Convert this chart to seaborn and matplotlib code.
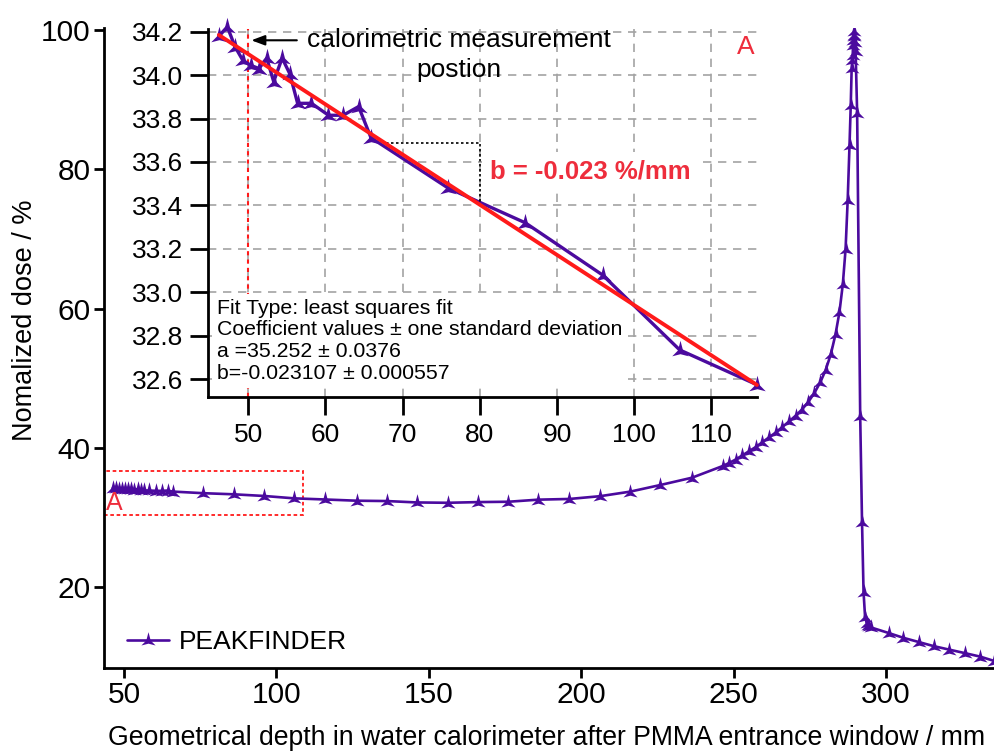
import numpy as np
import pandas as pd
import matplotlib
matplotlib.use("Agg")
import matplotlib.pyplot as plt
from matplotlib.path import Path
from matplotlib.patches import Rectangle
import seaborn as sns

# ---------------- data ----------------
inset_x = [46.2, 47.3, 48.3, 49.3, 50.3, 51.4, 52.4, 53.3, 54.4, 55.4, 56.4,
           58.2, 60.4, 62.3, 64.3, 65.9, 75.9, 85.9, 95.9, 105.9, 115.9]
inset_y = [34.178, 34.222, 34.130, 34.068, 34.045, 34.030, 34.078, 33.970,
           34.078, 34.005, 33.870, 33.870, 33.815, 33.815, 33.855, 33.712,
           33.480, 33.320, 33.080, 32.735, 32.575]

far_x = [126.3, 136.2, 146.0, 156.2, 166.2, 176.1, 185.9, 196.1, 206.2, 216.0,
         225.9, 236.3, 246.5, 248.4, 250.6, 252.8, 255.0, 257.2, 259.4, 261.6,
         263.8, 266.0, 268.2, 270.3, 272.4, 274.5, 276.5, 278.4, 280.2, 281.9,
         283.4, 284.7, 285.8, 286.7, 287.4, 288.0, 288.4, 288.7, 288.9, 289.05,
         289.15, 289.25, 289.35, 289.45, 289.6, 289.8, 290.0, 290.5, 291.5,
         292.1, 292.6, 293.1, 293.6, 294.0, 294.5, 295.0, 300.8, 305.7, 310.7,
         315.7, 320.8, 325.9, 330.9, 335.3]
far_y = [32.40, 32.35, 32.15, 32.10, 32.20, 32.25, 32.55, 32.65, 33.05, 33.70,
         34.65, 35.70, 37.40, 37.80, 38.30, 38.90, 39.50, 40.10, 40.80, 41.50,
         42.20, 43.00, 43.80, 44.60, 45.50, 46.60, 47.90, 49.40, 51.20, 53.50,
         56.30, 59.50, 63.50, 68.50, 75.60, 83.50, 89.20, 94.50, 95.70, 96.40,
         97.80, 98.60, 99.30, 99.80, 99.20, 98.30, 97.00, 88.10, 44.60,
         29.40, 19.30, 15.70, 14.90, 14.60, 14.40, 14.20, 13.40, 12.70, 12.10,
         11.50, 11.00, 10.50, 10.00, 9.40]

fit_a = 35.252
fit_b = -0.023107
series_name = "PEAKFINDER"
fit_text = ("Fit Type: least squares fit\n"
            "Coefficient values \u00b1 one standard deviation\n"
            "a =35.252 \u00b1 0.0376\n"
            "b=-0.023107 \u00b1 0.000557")

main_df = pd.DataFrame({"depth": inset_x + far_x, "dose": inset_y + far_y})
inset_df = pd.DataFrame({"depth": inset_x, "dose": inset_y})

# ---------------- style ----------------
sns.set_style("ticks")
plt.rcParams["font.family"] = ["Liberation Sans", "DejaVu Sans"]
plt.rcParams["axes.linewidth"] = 2.0
for k in ["text.color", "axes.labelcolor", "xtick.color", "ytick.color",
          "axes.edgecolor"]:
    plt.rcParams[k] = "black"

PURPLE = "#4b0a9e"
RED = "#ff1a1a"
RED_TXT = "#ee2d3c"

# arrow-like marker
marker_path = Path([(0, 1.0), (0.26, 0.0), (0.85, -0.6), (0, -0.38),
                    (-0.85, -0.6), (-0.26, 0.0), (0, 1.0)],
                   [Path.MOVETO] + [Path.LINETO] * 5 + [Path.CLOSEPOLY])

fig = plt.figure(figsize=(9.94, 7.53), dpi=100)

# ---------------- main axes ----------------
ax = fig.add_axes([0.1046, 0.1129, 0.8954, 0.8499])
sns.lineplot(data=main_df, x="depth", y="dose", ax=ax, color=PURPLE,
             linewidth=1.9, marker=marker_path, markersize=12,
             markeredgewidth=0, estimator=None, sort=False, label=series_name)
ax.set_xlim(43.4, 335.4)
ax.set_ylim(8.37, 100.3)
ax.set_xticks([50, 100, 150, 200, 250, 300])
ax.set_yticks([20, 40, 60, 80, 100])
sns.despine(ax=ax)
ax.tick_params(axis="both", direction="out", length=7, width=2,
               labelsize=21.5, pad=2.5, colors="black")
ax.set_xlabel("Geometrical depth in water calorimeter after PMMA entrance window / mm",
              fontsize=19.2)
ax.xaxis.set_label_coords((547 - 104) / 890, -(738 - 668) / 640)
ax.xaxis.label.set_va("center")
ax.set_ylabel("Nomalized dose / %", fontsize=19.5)
ax.yaxis.set_label_coords(-(104 - 25) / 890, (668 - 320) / 640)
ax.yaxis.label.set_va("center")

ax.add_patch(Rectangle((43.5, 30.34), 108.8 - 43.5, 36.7 - 30.34, fill=False,
                       edgecolor=RED, linestyle=(0, (2, 1.5)), linewidth=1.3,
                       zorder=1))
ax.text(44.0, 30.3, "A", color=RED_TXT, fontsize=18, ha="left", va="bottom")

leg = ax.legend(loc="center left", bbox_to_anchor=(0.026, 0.04), frameon=False,
                fontsize=19, handlelength=1.6, handletextpad=0.35,
                borderpad=0, borderaxespad=0)

# ---------------- inset ----------------
axin = fig.add_axes([0.2093, 0.4732, 0.5526, 0.4883])
axin.set_xlim(44.8, 115.95)
axin.set_ylim(32.52, 34.212)
axin.set_xticks([50, 60, 70, 80, 90, 100, 110])
axin.set_yticks([32.6, 32.8, 33.0, 33.2, 33.4, 33.6, 33.8, 34.0, 34.2])
axin.yaxis.set_major_formatter(matplotlib.ticker.FormatStrFormatter("%.1f"))
axin.grid(True, color="#a3a3a3", linestyle=(0, (5, 4)), linewidth=1.2)
axin.set_axisbelow(True)
sns.despine(ax=axin)
axin.tick_params(axis="both", direction="out", length=13, width=2,
                 labelsize=19, colors="black")
axin.tick_params(axis="x", pad=6)
axin.tick_params(axis="y", pad=5)
axin.patch.set_alpha(0)

axin.axvline(50, color=RED, linestyle=(0, (2, 2)), linewidth=1.5, zorder=0.8)

sns.lineplot(data=inset_df, x="depth", y="dose", ax=axin, color=PURPLE,
             linewidth=2.4, marker=marker_path, markersize=14,
             markeredgewidth=0, estimator=None, sort=False, legend=False)
for l in axin.lines:
    l.set_clip_on(False)
axin.set_xlabel("")
axin.set_ylabel("")

fx = np.array([inset_x[0], inset_x[-1]])
axin.plot(fx, fit_a + fit_b * fx, color=RED, linewidth=2.8, zorder=4,
          clip_on=False)

# slope triangle
x1, x2 = 67.8, 80.0
axin.plot([x1, x2, x2], [fit_a + fit_b * x1, fit_a + fit_b * x1, fit_a + fit_b * x2],
          color="black", linestyle=(0, (1.5, 1.5)), linewidth=1.2, zorder=3)

axin.text(81.3, 33.554, "b = -0.023 %/mm", color=RED_TXT, fontsize=18.5,
          fontweight="bold", ha="left", va="center", zorder=5,
          bbox=dict(boxstyle="square,pad=0.3", facecolor="white", edgecolor="none"))

axin.annotate("", xy=(50.4, 34.16), xytext=(56.3, 34.16),
              arrowprops=dict(arrowstyle="-|>,head_length=0.8,head_width=0.3",
                              color="black", lw=1.5, shrinkA=0, shrinkB=0))
axin.text(77.3, 34.215, "calorimetric measurement\npostion", fontsize=19,
          ha="center", va="top", multialignment="center", linespacing=1.3)

axin.text(114.4, 34.13, "A", color=RED_TXT, fontsize=19, ha="center", va="center")

axin.text(46.0, 32.585, fit_text, fontsize=15.3, ha="left", va="bottom",
          linespacing=1.17, zorder=1,
          bbox=dict(boxstyle="square,pad=0.25", facecolor="white", edgecolor="none"))

fig.savefig("out.png", dpi=100)
